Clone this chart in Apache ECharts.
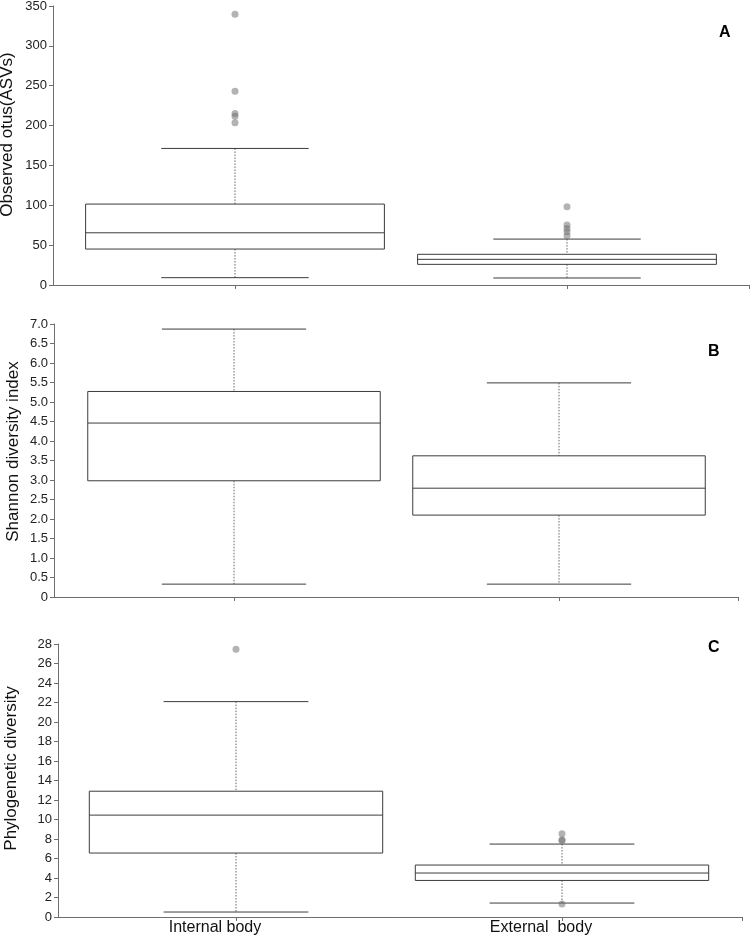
<!DOCTYPE html>
<html>
<head>
<meta charset="utf-8">
<script src="https://cdn.jsdelivr.net/npm/echarts@6/dist/echarts.min.js"></script>
<style>
html,body{margin:0;padding:0;background:#fff;}
#chart{width:750px;height:939px;}
</style>
</head>
<body>
<div id="chart"></div>
<script>
// ---- data ----
const categories = ['Internal body', 'External  body'];

// [min whisker, Q1, median, Q3, max whisker]
const observedBoxInternal = [9.2, 45.1, 65.5, 101.5, 171.3];
const observedBoxExternal = [8.8, 25.9, 32.2, 38.5, 57.6];
const observedOutliersInternal = [339.6, 243, 215, 211.8, 203.4];
const observedOutliersExternal = [98.1, 75.2, 71, 66.8, 61.8];

const shannonBoxInternal = [0.33, 2.98, 4.46, 5.27, 6.87];
const shannonBoxExternal = [0.33, 2.10, 2.79, 3.62, 5.49];

const pdBoxInternal = [0.51, 6.56, 10.45, 12.9, 22.09];
const pdBoxExternal = [1.43, 3.75, 4.51, 5.33, 7.48];
const pdOutliersInternal = [27.46];
const pdOutliersExternal = [8.53, 7.89, 7.85, 1.33];

const observedTicks = {min: 0, max: 350, interval: 50};
const shannonTicks = {min: 0, max: 7, interval: 0.5};
const pdTicks = {min: 0, max: 28, interval: 2};

const yTitles = ['Observed otus(ASVs)', 'Shannon diversity index', 'Phylogenetic diversity'];
const panelLetters = ['A', 'B', 'C'];

// ---- build ----
const FONT = '"Liberation Sans", Arial, sans-serif';
const AXIS_COLOR = '#6e6e6e';
const BOX_COLOR = '#3c3c3c';

function boxData(internal, external) {
  return [[0].concat(internal), [1].concat(external)];
}
function outlierData(internal, external) {
  const out = [];
  internal.forEach(v => out.push([0, v]));
  external.forEach(v => out.push([1, v]));
  return out;
}

function renderBox(params, api) {
  const i = api.value(0);
  const lo = api.value(1), q1 = api.value(2), med = api.value(3), q3 = api.value(4), hi = api.value(5);
  const k = api.size([1, 0])[0];
  const cx = api.coord([i, med])[0];
  const y = v => api.coord([i, v])[1];
  const bh = 0.45 * k, ch = 0.222 * k;
  const solid = {stroke: BOX_COLOR, lineWidth: 1, fill: null};
  const dotted = {stroke: '#666', lineWidth: 1, lineDash: [1.5, 1.5], fill: null};
  return {
    type: 'group',
    children: [
      {type: 'line', shape: {x1: cx, y1: y(hi), x2: cx, y2: y(q3)}, style: dotted},
      {type: 'line', shape: {x1: cx, y1: y(q1), x2: cx, y2: y(lo)}, style: dotted},
      {type: 'line', shape: {x1: cx - ch, y1: y(hi), x2: cx + ch, y2: y(hi)}, style: solid},
      {type: 'line', shape: {x1: cx - ch, y1: y(lo), x2: cx + ch, y2: y(lo)}, style: solid},
      {type: 'rect', shape: {x: cx - bh, y: y(q3), width: 2 * bh, height: y(q1) - y(q3)}, style: {stroke: BOX_COLOR, lineWidth: 1, fill: '#fff'}},
      {type: 'line', shape: {x1: cx - bh, y1: y(med), x2: cx + bh, y2: y(med)}, style: solid}
    ]
  };
}

// panel geometry: left axis x, right end, centers
const panels = [
  {L: 53, R: 749, c0: 235, c1: 567, top: 6, bottom: 285},
  {L: 54, R: 738, c0: 234, c1: 559, top: 324, bottom: 597},
  {L: 58, R: 742, c0: 236, c1: 562, top: 644, bottom: 917}
];
const ticksList = [observedTicks, shannonTicks, pdTicks];
const boxes = [
  boxData(observedBoxInternal, observedBoxExternal),
  boxData(shannonBoxInternal, shannonBoxExternal),
  boxData(pdBoxInternal, pdBoxExternal)
];
const outliers = [
  outlierData(observedOutliersInternal, observedOutliersExternal),
  [],
  outlierData(pdOutliersInternal, pdOutliersExternal)
];
const nameGaps = [37, 32, 38];
const namePads = [[0, 0, 0, 22], [0, 0, 0, 18], [0, 0, 0, 24]];

const grid = [], xAxis = [], yAxis = [], series = [];
panels.forEach((p, idx) => {
  const k = p.c1 - p.c0;
  const xmin = -(p.c0 - p.L) / k;
  const xmax = 1 + (p.R - p.c1) / k;
  grid.push({left: p.L, width: p.R - p.L, top: p.top, height: p.bottom - p.top,
             containLabel: false, outerBoundsMode: 'none'});
  xAxis.push({
    type: 'value', gridIndex: idx, min: xmin, max: xmax,
    splitLine: {show: false},
    axisLine: {show: true, onZero: false, lineStyle: {color: AXIS_COLOR, width: 1}},
    axisTick: {show: true, customValues: [0, 1, xmax], length: 4, lineStyle: {color: AXIS_COLOR}},
    axisLabel: idx === 2 ? {
      show: true, customValues: [0, 1],
      formatter: v => categories[Math.round(v)] || '',
      fontFamily: FONT, fontSize: 16, color: '#111', margin: 3,
      padding: [0, 42, 0, 0]
    } : {show: false}
  });
  const t = ticksList[idx];
  yAxis.push({
    type: 'value', gridIndex: idx, min: t.min, max: t.max, interval: t.interval,
    splitLine: {show: false},
    axisLine: {show: true, onZero: false, lineStyle: {color: AXIS_COLOR, width: 1}},
    axisTick: {show: true, length: 4, lineStyle: {color: AXIS_COLOR}},
    axisLabel: {
      fontFamily: FONT, fontSize: 13, color: '#222', margin: 6,
      formatter: idx === 1 ? (v => v === 0 ? '0' : v.toFixed(1)) : (v => String(v)),
      padding: idx === 1 ? [16, 0, 0, 0] : 0
    },
    name: yTitles[idx], nameLocation: 'middle', nameGap: nameGaps[idx],
    nameMoveOverlap: false,
    nameTextStyle: {fontFamily: FONT, fontSize: 17, color: '#111', padding: namePads[idx]}
  });
  series.push({
    type: 'custom', xAxisIndex: idx, yAxisIndex: idx,
    renderItem: renderBox, data: boxes[idx], silent: true,
    encode: {x: 0, y: [1, 2, 3, 4, 5]}
  });
  if (outliers[idx].length) {
    series.push({
      type: 'scatter', xAxisIndex: idx, yAxisIndex: idx,
      data: outliers[idx], symbol: 'circle', symbolSize: 7, silent: true,
      itemStyle: {color: 'rgba(110,110,110,0.65)'}
    });
  }
});

const letterPos = [[725, 34], [714, 353], [714, 649]];
const graphic = panelLetters.map((l, i) => ({
  type: 'text', left: letterPos[i][0] - 6, top: letterPos[i][1] - 9,
  style: {text: l, font: 'bold 16px ' + FONT, fill: '#000'}
}));

const chart = echarts.init(document.getElementById('chart'), null, {renderer: 'canvas'});
chart.setOption({
  animation: false,
  backgroundColor: '#fff',
  grid, xAxis, yAxis, series, graphic
});
</script>
</body>
</html>
